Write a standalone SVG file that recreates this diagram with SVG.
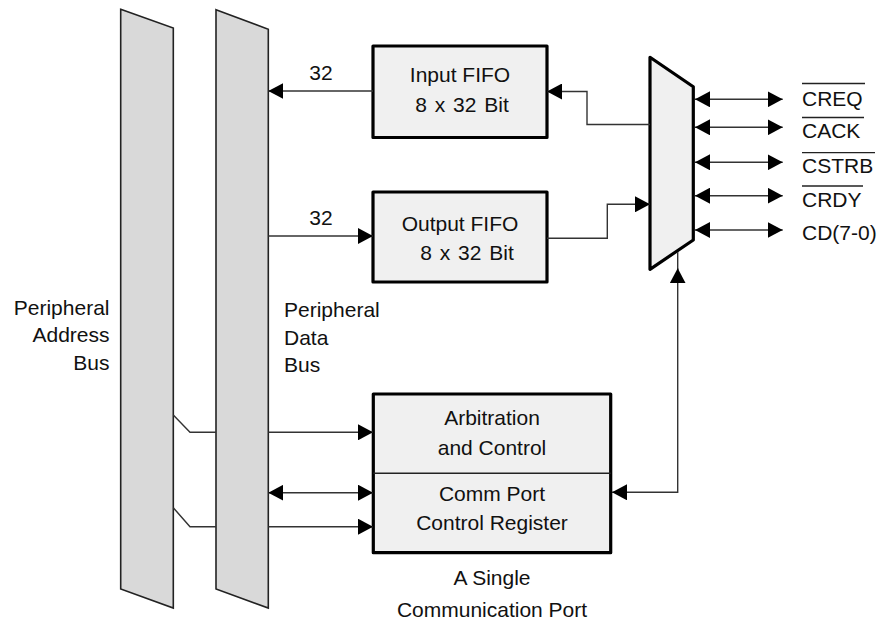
<svg xmlns="http://www.w3.org/2000/svg" width="880" height="621" viewBox="0 0 880 621">
<defs>
<marker id="ah" viewBox="0 0 15 16" refX="15" refY="8" markerWidth="15" markerHeight="16" markerUnits="userSpaceOnUse" orient="auto-start-reverse">
<path d="M0,0 L15,8 L0,16 z" fill="#000"/>
</marker>
<style>
text{font-family:"Liberation Sans",Arial,sans-serif;font-size:21px;fill:#111}
.bus{fill:#d9d9d9;stroke:#222;stroke-width:1.6;stroke-linejoin:miter}
.box{fill:#f0f0f0;stroke:#000;stroke-width:3.2;stroke-linejoin:round}
.w{fill:none;stroke:#333;stroke-width:1.4}
.ov{stroke:#222;stroke-width:1.3}
.m{text-anchor:middle}
.e{text-anchor:end}
.ws{word-spacing:2px}
</style>
</defs>
<rect width="880" height="621" fill="#fff"/>

<g id="address-bus">
<polygon class="bus" points="120.7,9.3 173.3,28 173.3,608 120.7,589"/>
<text class="e" x="109.5" y="314.5">Peripheral</text>
<text class="e" x="109.5" y="342">Address</text>
<text class="e" x="109.5" y="369.5">Bus</text>
</g>

<g id="data-bus">
<polygon class="bus" points="216,9.7 268.3,29.3 268.3,608 216,589"/>
<text x="284" y="317">Peripheral</text>
<text x="284" y="345">Data</text>
<text x="284" y="372">Bus</text>
</g>

<g id="input-fifo">
<rect class="box" x="373" y="46" width="174" height="91.5"/>
<text class="m" x="460" y="82">Input FIFO</text>
<text class="m ws" x="462" y="112">8 x 32 Bit</text>
</g>

<g id="output-fifo">
<rect class="box" x="373" y="192" width="174" height="90"/>
<text class="m" x="460" y="231">Output FIFO</text>
<text class="m ws" x="467" y="260">8 x 32 Bit</text>
</g>

<g id="mux">
<polygon class="box" points="650,57.3 693.3,86.7 693.3,240 650,269.3"/>
</g>

<g id="control">
<rect class="box" x="373.3" y="394" width="237.4" height="158.7"/>
<line x1="373.3" y1="473.3" x2="610.7" y2="473.3" stroke="#222" stroke-width="1.4"/>
<text class="m" x="492" y="425">Arbitration</text>
<text class="m" x="492" y="455">and Control</text>
<text class="m" x="492" y="501">Comm Port</text>
<text class="m" x="492" y="530">Control Register</text>
<text class="m" x="492" y="585">A Single</text>
<text class="m" x="492" y="616.5">Communication Port</text>
</g>

<g id="signals">
<text x="802" y="106">CREQ</text>
<line class="ov" x1="802" y1="83.5" x2="865" y2="83.5"/>
<text x="802" y="138">CACK</text>
<line class="ov" x1="802" y1="117.5" x2="864" y2="117.5"/>
<text x="802" y="172.7">CSTRB</text>
<line class="ov" x1="802" y1="152.7" x2="875" y2="152.7"/>
<text x="802" y="207.3">CRDY</text>
<line class="ov" x1="802" y1="186" x2="863" y2="186"/>
<text x="802" y="240">CD(7-0)</text>
</g>

<g id="connectors">
<line class="w" x1="373" y1="91" x2="268.3" y2="91" marker-end="url(#ah)"/>
<text class="m" x="321" y="80">32</text>
<line class="w" x1="268.3" y1="236" x2="373" y2="236" marker-end="url(#ah)"/>
<text class="m" x="321" y="225">32</text>
<polyline class="w" points="650,124.5 587,124.5 587,91.5 547,91.5" marker-end="url(#ah)"/>
<polyline class="w" points="547,238.3 607.3,238.3 607.3,204.3 650,204.3" marker-end="url(#ah)"/>
<line class="w" x1="695" y1="99.3" x2="782.7" y2="99.3" marker-start="url(#ah)" marker-end="url(#ah)"/>
<line class="w" x1="695" y1="127.3" x2="782.7" y2="127.3" marker-start="url(#ah)" marker-end="url(#ah)"/>
<line class="w" x1="695" y1="162.3" x2="782.7" y2="162.3" marker-start="url(#ah)" marker-end="url(#ah)"/>
<line class="w" x1="695" y1="195.7" x2="782.7" y2="195.7" marker-start="url(#ah)" marker-end="url(#ah)"/>
<line class="w" x1="695" y1="230" x2="782.7" y2="230" stroke-width="2.5" marker-start="url(#ah)" marker-end="url(#ah)"/>
<line class="w" x1="677.7" y1="252" x2="677.7" y2="270"/>
<polyline class="w" points="612,492.3 677.7,492.3 677.7,268.3" marker-start="url(#ah)" marker-end="url(#ah)"/>
<polyline class="w" points="173.3,415 190,432.3 216,432.3"/>
<line class="w" x1="268.3" y1="432.3" x2="373" y2="432.3" marker-end="url(#ah)"/>
<line class="w" x1="268.3" y1="492.7" x2="373" y2="492.7" marker-start="url(#ah)" marker-end="url(#ah)"/>
<polyline class="w" points="173.3,507.7 190,526.7 216,526.7"/>
<line class="w" x1="268.3" y1="526.7" x2="373" y2="526.7" marker-end="url(#ah)"/>
</g>
</svg>
